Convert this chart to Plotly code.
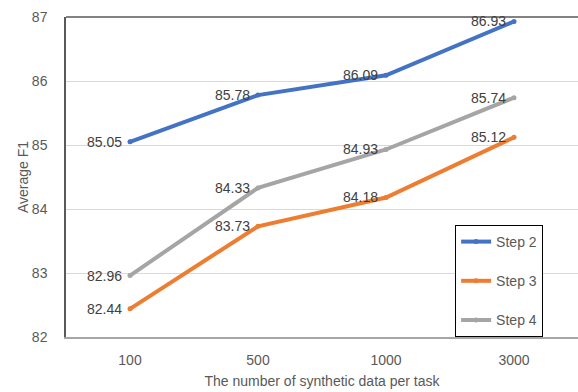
import plotly.graph_objects as go

# Amount of synthetic data per task (categorical x axis)
sizes = ["100", "500", "1000", "3000"]

# Average F1 for each step
step2 = [85.05, 85.78, 86.09, 86.93]
step3 = [82.44, 83.73, 84.18, 85.12]
step4 = [82.96, 84.33, 84.93, 85.74]

series_names = ["Step 2", "Step 3", "Step 4"]
series_values = [step2, step3, step4]
series_colors = ["#4472C4", "#ED7D31", "#A5A5A5"]

FONT = "Liberation Sans, Arial, sans-serif"

fig = go.Figure()
annotations = []
for i, (name, vals, color) in enumerate(zip(series_names, series_values, series_colors)):
    fig.add_trace(go.Scatter(
        x=sizes,
        y=vals,
        name=name,
        legendgroup=f"g{i}",
        mode="lines+markers",
        line=dict(color=color, width=4),
        marker=dict(color=color, size=5),
        cliponaxis=False,
    ))
    # value labels placed just left of each point (category index on x)
    for j, yv in enumerate(vals):
        annotations.append(dict(
            x=j, y=yv, xref="x", yref="y",
            text=f"{yv:.2f}", showarrow=False,
            xanchor="right", yanchor="middle", xshift=-6, yshift=0,
            font=dict(family=FONT, size=14, color="#404040"),
        ))

fig.update_layout(
    width=578,
    height=392,
    margin=dict(l=66, r=0, t=17, b=55),
    paper_bgcolor="white",
    plot_bgcolor="white",
    font=dict(family=FONT, size=14, color="#595959"),
    showlegend=True,
    legend=dict(
        x=0.76, y=0.35, xanchor="left", yanchor="top",
        bgcolor="white",
        bordercolor="#000000",
        borderwidth=1,
        font=dict(family=FONT, size=14, color="#595959"),
        tracegroupgap=18,
        itemwidth=30,
    ),
    xaxis=dict(
        title=dict(text="The number of synthetic data per task",
                   font=dict(family=FONT, size=14, color="#595959"), standoff=10),
        type="category",
        range=[-0.5, 3.5],
        showgrid=False,
        showline=True,
        linecolor="#A6A6A6",
        linewidth=1.5,
        ticks="outside",
        ticklen=9,
        tickcolor="rgba(0,0,0,0)",
        tickfont=dict(family=FONT, size=14, color="#595959"),
        zeroline=False,
    ),
    yaxis=dict(
        title=dict(text="Average F1",
                   font=dict(family=FONT, size=14, color="#595959"), standoff=0),
        range=[82, 87],
        dtick=1,
        showgrid=True,
        gridcolor="#D9D9D9",
        gridwidth=1,
        showline=True,
        linecolor="#595959",
        linewidth=1.5,
        ticks="outside",
        ticklen=14,
        tickcolor="rgba(0,0,0,0)",
        tickfont=dict(family=FONT, size=14, color="#595959"),
        zeroline=False,
    ),
    annotations=annotations,
    shapes=[
        dict(type="line", xref="paper", yref="paper", x0=0, x1=1, y0=1, y1=1,
             line=dict(color="#595959", width=1.5), layer="below"),
    ],
)

fig.write_html("out.html")
